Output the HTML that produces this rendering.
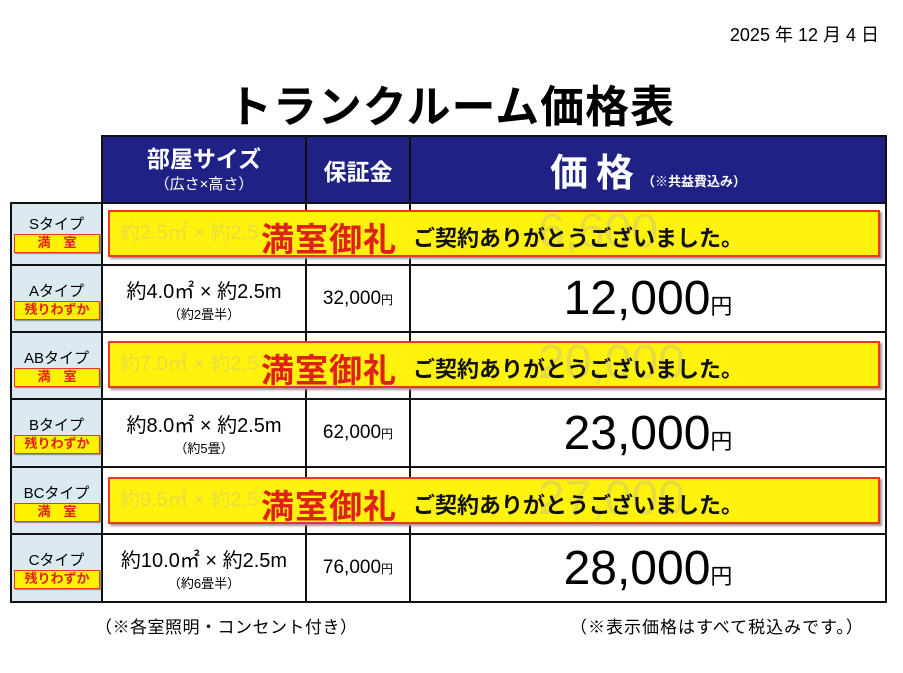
<!DOCTYPE html>
<html><head><meta charset="utf-8"><style>
body{margin:0;width:903px;height:673px;background:#fff;position:relative;overflow:hidden;font-family:"Liberation Sans","Noto Sans CJK JP",sans-serif;}
.a{position:absolute;}
.c{position:absolute;display:flex;align-items:center;justify-content:center;flex-direction:column;text-align:center;}
.hd{background:#1f2185;color:#fff;font-weight:bold;}
.lab{background:#dbeaf0;}
.badge{position:absolute;left:3px;width:86px;height:19px;background:#fff200;border:1.5px solid #e8362b;box-sizing:border-box;color:#e0201a;font-weight:bold;font-size:13px;line-height:16px;text-align:center;box-shadow:1px 1px 1px #888;}
.ban{position:absolute;left:108px;width:772px;height:47px;background:#fff20c;border:2.5px solid #e8362b;box-sizing:border-box;box-shadow:2px 2px 2px #999;}
.ban .r{position:absolute;left:151px;top:1px;font-size:33px;font-weight:bold;color:#e0201a;letter-spacing:1px;}
.ban .b{position:absolute;left:303px;top:9px;font-size:22px;color:#111;font-weight:bold;}
.big{font-size:48px;}
.yen{font-size:22px;}
.lt{font-size:15px;}
</style></head><body>
<div class="a" style="right:24px;top:21px;font-size:18px;">2025 年 12 月 4 日</div>
<div class="a" style="left:0;width:903px;top:71px;text-align:center;font-size:44px;font-weight:bold;letter-spacing:1px;">トランクルーム価格表</div>

<div class="c hd" style="left:102px;top:136px;width:204px;height:67px;"><div style="font-size:23px;line-height:27px;">部屋サイズ</div><div style="font-size:15px;font-weight:normal;">（広さ×高さ）</div></div>
<div class="c hd" style="left:306px;top:136px;width:104px;height:67px;font-size:23px;">保証金</div>
<div class="c hd" style="left:410px;top:136px;width:476px;height:67px;"><div><span style="font-size:38px;letter-spacing:8px;">価格</span><span style="font-size:13px;">（※共益費込み）</span></div></div>

<div class="a lab" style="left:11px;top:203px;width:91px;height:399px;"></div>

<svg class="a" style="left:0;top:0" width="903" height="673">
<g stroke="#111" stroke-width="2" fill="none">
<rect x="102" y="136" width="784" height="67"/>
<rect x="11" y="203" width="875" height="399"/>
<line x1="102" y1="203" x2="102" y2="602"/>
<line x1="306" y1="136" x2="306" y2="602"/>
<line x1="410" y1="136" x2="410" y2="602"/>
<line x1="11" y1="265" x2="886" y2="265"/>
<line x1="11" y1="332" x2="886" y2="332"/>
<line x1="11" y1="399" x2="886" y2="399"/>
<line x1="11" y1="467" x2="886" y2="467"/>
<line x1="11" y1="534" x2="886" y2="534"/>
</g></svg>

<div class="a" style="left:11px;top:203px;width:91px;height:62px;"><div class="a lt" style="top:10px;width:91px;text-align:center;">Sタイプ</div><div class="badge" style="top:31px;">満　室</div></div>
<div class="a" style="left:11px;top:265px;width:91px;height:67px;"><div class="a lt" style="top:15px;width:91px;text-align:center;">Aタイプ</div><div class="badge" style="top:36px;">残りわずか</div></div>
<div class="a" style="left:11px;top:332px;width:91px;height:67px;"><div class="a lt" style="top:15px;width:91px;text-align:center;">ABタイプ</div><div class="badge" style="top:36px;">満　室</div></div>
<div class="a" style="left:11px;top:399px;width:91px;height:68px;"><div class="a lt" style="top:15px;width:91px;text-align:center;">Bタイプ</div><div class="badge" style="top:36px;">残りわずか</div></div>
<div class="a" style="left:11px;top:467px;width:91px;height:67px;"><div class="a lt" style="top:15px;width:91px;text-align:center;">BCタイプ</div><div class="badge" style="top:36px;">満　室</div></div>
<div class="a" style="left:11px;top:534px;width:91px;height:68px;"><div class="a lt" style="top:15px;width:91px;text-align:center;">Cタイプ</div><div class="badge" style="top:36px;">残りわずか</div></div>

<div class="c" style="left:102px;top:265px;width:204px;height:67px;"><div style="font-size:20px;">約4.0㎡ × 約2.5m</div><div style="font-size:13px;">（約2畳半）</div></div>
<div class="c" style="left:306px;top:265px;width:104px;height:67px;"><div><span style="font-size:19px;">32,000</span><span style="font-size:12px;">円</span></div></div>
<div class="c" style="left:410px;top:265px;width:476px;height:67px;"><div><span class="big">12,000</span><span class="yen">円</span></div></div>

<div class="c" style="left:102px;top:399px;width:204px;height:68px;"><div style="font-size:20px;">約8.0㎡ × 約2.5m</div><div style="font-size:13px;">（約5畳）</div></div>
<div class="c" style="left:306px;top:399px;width:104px;height:68px;"><div><span style="font-size:19px;">62,000</span><span style="font-size:12px;">円</span></div></div>
<div class="c" style="left:410px;top:399px;width:476px;height:68px;"><div><span class="big">23,000</span><span class="yen">円</span></div></div>

<div class="c" style="left:102px;top:534px;width:204px;height:68px;"><div style="font-size:20px;">約10.0㎡ × 約2.5m</div><div style="font-size:13px;">（約6畳半）</div></div>
<div class="c" style="left:306px;top:534px;width:104px;height:68px;"><div><span style="font-size:19px;">76,000</span><span style="font-size:12px;">円</span></div></div>
<div class="c" style="left:410px;top:534px;width:476px;height:68px;"><div><span class="big">28,000</span><span class="yen">円</span></div></div>

<div class="ban" style="top:210px;"><span class="a" style="left:10px;top:4px;font-size:20px;color:#e6dc40;">約2.5㎡ × 約2.5</span><span class="a" style="left:428px;top:-8px;font-size:48px;color:#e6dc40;">6,600</span><span class="r">満室御礼</span><span class="b">ご契約ありがとうございました。</span></div>
<div class="ban" style="top:341px;"><span class="a" style="left:10px;top:4px;font-size:20px;color:#e6dc40;">約7.0㎡ × 約2.5</span><span class="a" style="left:428px;top:-8px;font-size:48px;color:#e6dc40;">20,000</span><span class="r">満室御礼</span><span class="b">ご契約ありがとうございました。</span></div>
<div class="ban" style="top:477px;"><span class="a" style="left:10px;top:4px;font-size:20px;color:#e6dc40;">約9.5㎡ × 約2.5</span><span class="a" style="left:428px;top:-8px;font-size:48px;color:#e6dc40;">27,000</span><span class="r">満室御礼</span><span class="b">ご契約ありがとうございました。</span></div>

<div class="a" style="left:95px;top:613px;font-size:17px;letter-spacing:0.5px;">（※各室照明・コンセント付き）</div>
<div class="a" style="left:570px;top:613px;font-size:17px;letter-spacing:1px;">（※表示価格はすべて税込みです。）</div>
</body></html>
